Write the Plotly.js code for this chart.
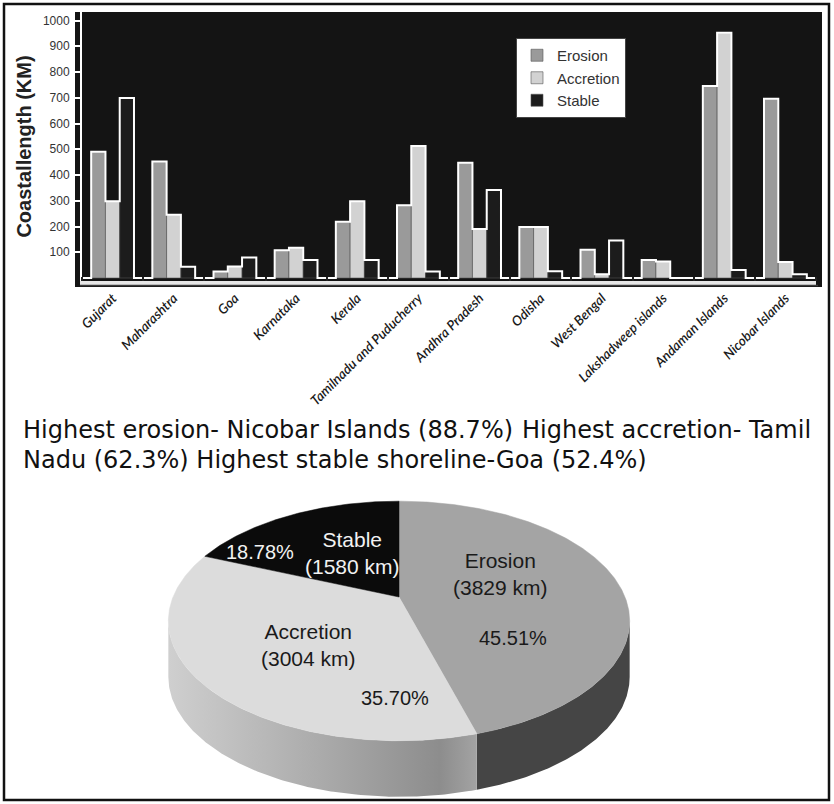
<!DOCTYPE html>
<html><head><meta charset="utf-8">
<script src="https://cdn.plot.ly/plotly-3.0.1.min.js"></script>
<style>html,body{margin:0;padding:0;background:#fff;}#chart{width:834px;height:804px;}</style>
</head><body><div id="chart"></div>
<script>
// ---------- data ----------
const states = ["Gujarat","Maharashtra","Goa","Karnataka","Kerala","Tamilnadu and Puducherry","Andhra Pradesh","Odisha","West Bengal","Lakshadweep islands","Andaman Islands","Nicobar Islands"];
const erosion   = [490, 452, 25, 108, 218, 283, 448, 198, 110, 70, 746, 696];
const accretion = [298, 246, 45, 118, 298, 513, 190, 198, 15, 64, 952, 62];
const stable    = [699, 44, 80, 70, 70, 25, 342, 26, 146, 0, 31, 15];
const yTickVals = [100, 200, 300, 400, 500, 600, 700, 800, 900, 1000];
const seriesNames = ["Erosion", "Accretion", "Stable"];

const pieLabels = ["Erosion", "Accretion", "Stable"];
const pieKm = [3829, 3004, 1580];
const piePct = ["45.51%", "35.70%", "18.78%"];

const noteLine1a = "Highest erosion- Nicobar Islands (88.7%)";
const noteLine1b = "Highest accretion- Tamil";
const noteLine2 = "Nadu (62.3%) Highest stable shoreline-Goa (52.4%)";

// ---------- layout helpers ----------
const W = 834, H = 804;
const PX = x => x / W, PY = y => 1 - y / H;
const idx = states.map((_, i) => i);
const BARGAP = 0.3, GW = 1 - BARGAP, BW = GW / 3;

// white step outline over the bar tops (built from the values)
const stepX = [-0.5], stepY = [0];
idx.forEach(i => {
  stepX.push(i - GW / 2, i - GW / 2 + BW, i - GW / 2 + 2 * BW, i + GW / 2);
  stepY.push(erosion[i], accretion[i], stable[i], 0);
});
stepX.push(11.5); stepY.push(0);

const barColors = ["#9a9a9a", "#d2d2d2", "#1c1c1c"];
const barData = [erosion, accretion, stable];
const traces = barData.map((vals, s) => ({
  type: "bar", name: seriesNames[s], x: idx, y: vals, xaxis: "x", yaxis: "y",
  marker: {color: barColors[s], line: {color: "#555", width: 0.6}},
  hoverinfo: "skip"
}));
traces.push({
  type: "scatter", mode: "lines", x: stepX, y: stepY, xaxis: "x", yaxis: "y",
  line: {color: "#ffffff", width: 2, shape: "hv"}, showlegend: false, hoverinfo: "skip"
});

// ---------- 3D-looking pie built from the values ----------
const P = {cx: 399, cy: 597, A: 226, B: 115, k: 0.2, D: 56};
function proj(t, dy) {
  const u = Math.sin(t), v = Math.cos(t), w = 1 + P.k * v;
  return [P.cx + P.A * u / w, P.cy - P.B * v / w + (dy || 0)];
}
function arc(a, b, dy) {
  const pts = [], n = Math.max(2, Math.ceil(Math.abs(b - a) / 0.01));
  for (let j = 0; j <= n; j++) pts.push(proj(a + (b - a) * j / n, dy));
  return pts;
}
const total = pieKm.reduce((a, b) => a + b, 0);
const starts = [], ends = [];
let acc = 0;
pieKm.forEach(v => { starts.push(acc / total * 2 * Math.PI); acc += v; ends.push(acc / total * 2 * Math.PI); });

const th1 = Math.acos(-P.k), th2 = 2 * Math.PI - th1;
const sideStyle = [
  {fillcolor: "#454545"},
  {fillgradient: {type: "horizontal", colorscale: [[0, "#cfcfcf"], [0.5, "#aaaaaa"], [0.88, "#8d8d8d"], [1, "#a3a3a3"]]}},
  {fillcolor: "#222222"}
];
pieKm.forEach((v, i) => {
  const a = Math.max(starts[i], th1), b = Math.min(ends[i], th2);
  if (b <= a) return;
  const pts = arc(a, b, 0).concat(arc(b, a, P.D));
  pts.push(pts[0]);
  traces.push(Object.assign({
    type: "scatter", mode: "lines", fill: "toself", xaxis: "x2", yaxis: "y2",
    x: pts.map(p => p[0]), y: pts.map(p => p[1]),
    line: {width: 0, color: "rgba(0,0,0,0)"}, showlegend: false, hoverinfo: "skip"
  }, sideStyle[i]));
});
const topColors = ["#a4a4a4", "#dcdcdc", "#0b0b0b"];
pieKm.forEach((v, i) => {
  const c = [P.cx, P.cy];
  const pts = [c].concat(arc(starts[i], ends[i], 0)).concat([c]);
  traces.push({
    type: "scatter", mode: "lines", fill: "toself", xaxis: "x2", yaxis: "y2",
    x: pts.map(p => p[0]), y: pts.map(p => p[1]), name: pieLabels[i],
    fillcolor: topColors[i], line: {width: 0.5, color: topColors[i]},
    showlegend: false, hoverinfo: "skip"
  });
});

// ---------- annotations ----------
const arial = "Arial, 'Liberation Sans', sans-serif";
const pieTextPos = [[500, 574, "#1a1a1a"], [308, 645, "#1a1a1a"], [352, 553, "#f2f2f2"]];
const piePctPos = [[513, 638, "#1a1a1a"], [395, 698, "#1a1a1a"], [260, 552, "#f2f2f2"]];
const annotations = [];
pieLabels.forEach((lab, i) => {
  annotations.push({xref: "x2", yref: "y2", x: pieTextPos[i][0], y: pieTextPos[i][1], showarrow: false,
    text: lab + "<br>(" + pieKm[i] + " km)", font: {family: arial, size: 21, color: pieTextPos[i][2]}});
  annotations.push({xref: "x2", yref: "y2", x: piePctPos[i][0], y: piePctPos[i][1], showarrow: false,
    text: piePct[i], font: {family: arial, size: 20, color: piePctPos[i][2]}});
});
const noteFont = {family: "'DejaVu Sans', 'Open Sans', sans-serif", size: 24, color: "#111"};
annotations.push({xref: "paper", yref: "paper", x: PX(21), y: PY(430), xanchor: "left", yanchor: "middle", showarrow: false, text: noteLine1a, font: noteFont});
annotations.push({xref: "paper", yref: "paper", x: PX(813), y: PY(430), xanchor: "right", yanchor: "middle", showarrow: false, text: noteLine1b, font: noteFont});
annotations.push({xref: "paper", yref: "paper", x: PX(21), y: PY(460), xanchor: "left", yanchor: "middle", showarrow: false, text: noteLine2, font: noteFont});

// ---------- layout ----------
const layout = {
  width: W, height: H,
  margin: {l: 0, r: 0, t: 0, b: 0},
  paper_bgcolor: "#ffffff", plot_bgcolor: "rgba(0,0,0,0)",
  showlegend: true,
  barmode: "group", bargap: BARGAP, bargroupgap: 0,
  xaxis: {
    domain: [PX(82), PX(816)], range: [-0.5, 11.5], anchor: "y",
    tickmode: "array", tickvals: idx, ticktext: states, tickangle: -45,
    ticks: "", showgrid: false, zeroline: false,
    showline: true, linecolor: "#e6e6e6", linewidth: 4,
    minor: {tick0: 0.5, dtick: 1, ticks: "inside", ticklen: 4, tickwidth: 2, tickcolor: "#222", showgrid: false},
    tickfont: {family: "Lato, 'Open Sans', sans-serif", size: 13.5, style: "italic", weight: 600, color: "#1a1a1a"},
    fixedrange: true
  },
  yaxis: {
    domain: [PY(281), PY(12)], range: [-11.6, 1033], anchor: "x",
    tickmode: "array", tickvals: yTickVals, ticks: "outside", ticklen: 5, tickwidth: 2, tickcolor: "#ffffff",
    ticklabelstandoff: 3,
    showgrid: false, zeroline: false, showline: true, linecolor: "#ffffff", linewidth: 2,
    tickfont: {family: arial, size: 12, color: "#333"},
    title: {text: "Coastallength (KM)", standoff: 6, font: {family: arial, size: 20, weight: "bold", color: "#222"}},
    fixedrange: true
  },
  xaxis2: {domain: [0, 1], range: [0, W], anchor: "y2", visible: false, fixedrange: true},
  yaxis2: {domain: [0, 1], range: [H, 0], anchor: "x2", visible: false, fixedrange: true},
  legend: {
    x: PX(516), y: PY(38), xanchor: "left", yanchor: "top",
    bgcolor: "#ffffff", bordercolor: "#444", borderwidth: 1,
    font: {family: arial, size: 15, color: "#333"}, tracegroupgap: 0, traceorder: "normal"
  },
  shapes: [
    {type: "rect", xref: "paper", yref: "paper", x0: PX(75), x1: PX(822), y0: PY(287), y1: PY(12),
     fillcolor: "#141414", line: {width: 0}, layer: "below"},
    {type: "line", xref: "paper", yref: "paper", x0: PX(80), x1: PX(818), y0: PY(285.5), y1: PY(285.5),
     line: {color: "#3a3a3a", width: 1.5}, layer: "above"},
    {type: "rect", xref: "paper", yref: "paper", x0: PX(4), x1: PX(829), y0: PY(800), y1: PY(4),
     fillcolor: "rgba(0,0,0,0)", line: {color: "#111", width: 2.5}, layer: "above"}
  ],
  annotations: annotations
};

Plotly.newPlot("chart", traces, layout, {staticPlot: true, displayModeBar: false});
</script>
</body></html>
